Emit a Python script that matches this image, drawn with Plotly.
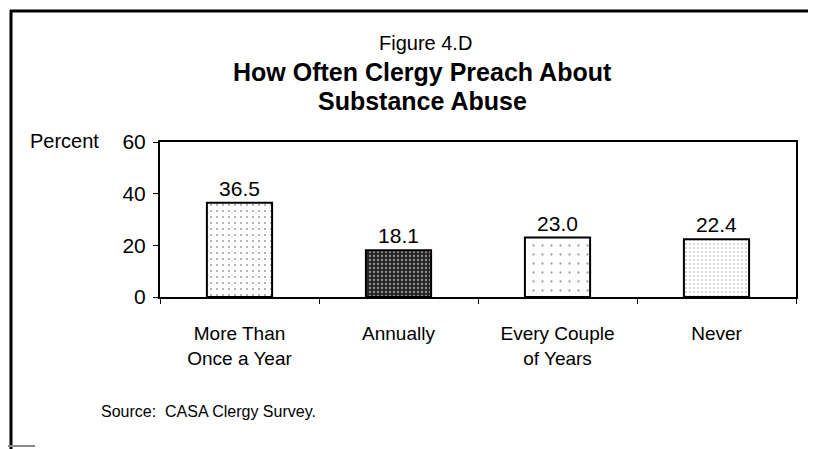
import plotly.graph_objects as go

categories = ["More Than<br>Once a Year", "Annually", "Every Couple<br>of Years", "Never"]
values = [36.5, 18.1, 23.0, 22.4]
value_labels = ["36.5", "18.1", "23.0", "22.4"]
y_ticks = [0, 20, 40, 60]

# page body has an 8px margin, so the figure is placed at (8, 8)
OFF = 8
W, H = 816 - OFF, 449 - OFF
L, R, T, B = 160 - OFF, 20, 142 - OFF, 152
FONT = "Liberation Sans, Arial, sans-serif"

fig = go.Figure()
fig.add_trace(go.Bar(
    x=categories, y=values, text=value_labels, textposition="outside",
    textfont=dict(family=FONT, size=21, color="black"),
    cliponaxis=False,
    marker=dict(
        color=["#ffffff", "#262626", "#ffffff", "#ffffff"],
        line=dict(color="black", width=2),
        pattern=dict(
            shape=[".", ".", ".", "."],
            fillmode="overlay",
            fgcolor=["#777777", "#cfcfcf", "#999999", "#666666"],
            size=[6, 4, 9, 4],
            solidity=[0.1, 0.25, 0.05, 0.12],
        ),
    ),
    hoverinfo="skip",
))

fig.update_layout(
    width=W, height=H,
    margin=dict(l=L, r=R, t=T, b=B),
    paper_bgcolor="white", plot_bgcolor="white",
    showlegend=False,
    bargap=0.59,
    font=dict(family=FONT, color="black"),
)
fig.update_xaxes(
    showline=True, linecolor="black", linewidth=2, mirror=True,
    ticks="outside", tickson="boundaries", ticklen=5, tickcolor="black",
    tickfont=dict(family=FONT, size=19, color="black"),
    ticklabelstandoff=18,
    showgrid=False,
)
fig.update_yaxes(
    range=[0, 60], tickvals=y_ticks, ticktext=[str(v) for v in y_ticks],
    showline=True, linecolor="black", linewidth=2, mirror=True,
    ticks="outside", ticklen=5, tickcolor="black",
    tickfont=dict(family=FONT, size=21, color="black"),
    ticklabelstandoff=3,
    showgrid=False, zeroline=False,
)

ph = H - T - B
pw = W - L - R
def px_to_paper_x(px):
    return (px - OFF - L) / pw
def px_to_paper_y(py):
    return (H - B - (py - OFF)) / ph

anns = [
    dict(text="Figure 4.D", px=425, py=43, size=20),
    dict(text="<b>How Often Clergy Preach About</b>", px=422, py=72, size=25),
    dict(text="<b>Substance Abuse</b>", px=422, py=101, size=25),
]
for a in anns:
    fig.add_annotation(text=a["text"], xref="paper", yref="paper",
                       x=px_to_paper_x(a["px"]), y=px_to_paper_y(a["py"]),
                       xanchor="center", yanchor="middle", showarrow=False,
                       font=dict(family=FONT, size=a["size"], color="black"))
fig.add_annotation(text="Percent", xref="paper", yref="paper",
                   x=px_to_paper_x(28), y=px_to_paper_y(141),
                   xanchor="left", yanchor="middle", showarrow=False,
                   font=dict(family=FONT, size=20, color="black"))
fig.add_annotation(text="Source:  CASA Clergy Survey.", xref="paper", yref="paper",
                   x=px_to_paper_x(99), y=px_to_paper_y(411),
                   xanchor="left", yanchor="middle", showarrow=False,
                   font=dict(family=FONT, size=16, color="black"))

# outer frame decoration
fig.add_shape(type="line", xref="paper", yref="paper",
              x0=px_to_paper_x(10), x1=px_to_paper_x(830),
              y0=px_to_paper_y(11), y1=px_to_paper_y(11),
              line=dict(color="black", width=3))
fig.add_shape(type="line", xref="paper", yref="paper",
              x0=px_to_paper_x(11), x1=px_to_paper_x(11),
              y0=px_to_paper_y(10), y1=px_to_paper_y(460),
              line=dict(color="black", width=3))
fig.add_shape(type="line", xref="paper", yref="paper",
              x0=px_to_paper_x(8), x1=px_to_paper_x(35),
              y0=px_to_paper_y(446), y1=px_to_paper_y(446),
              line=dict(color="#888888", width=2))

fig.write_html("out.html")
